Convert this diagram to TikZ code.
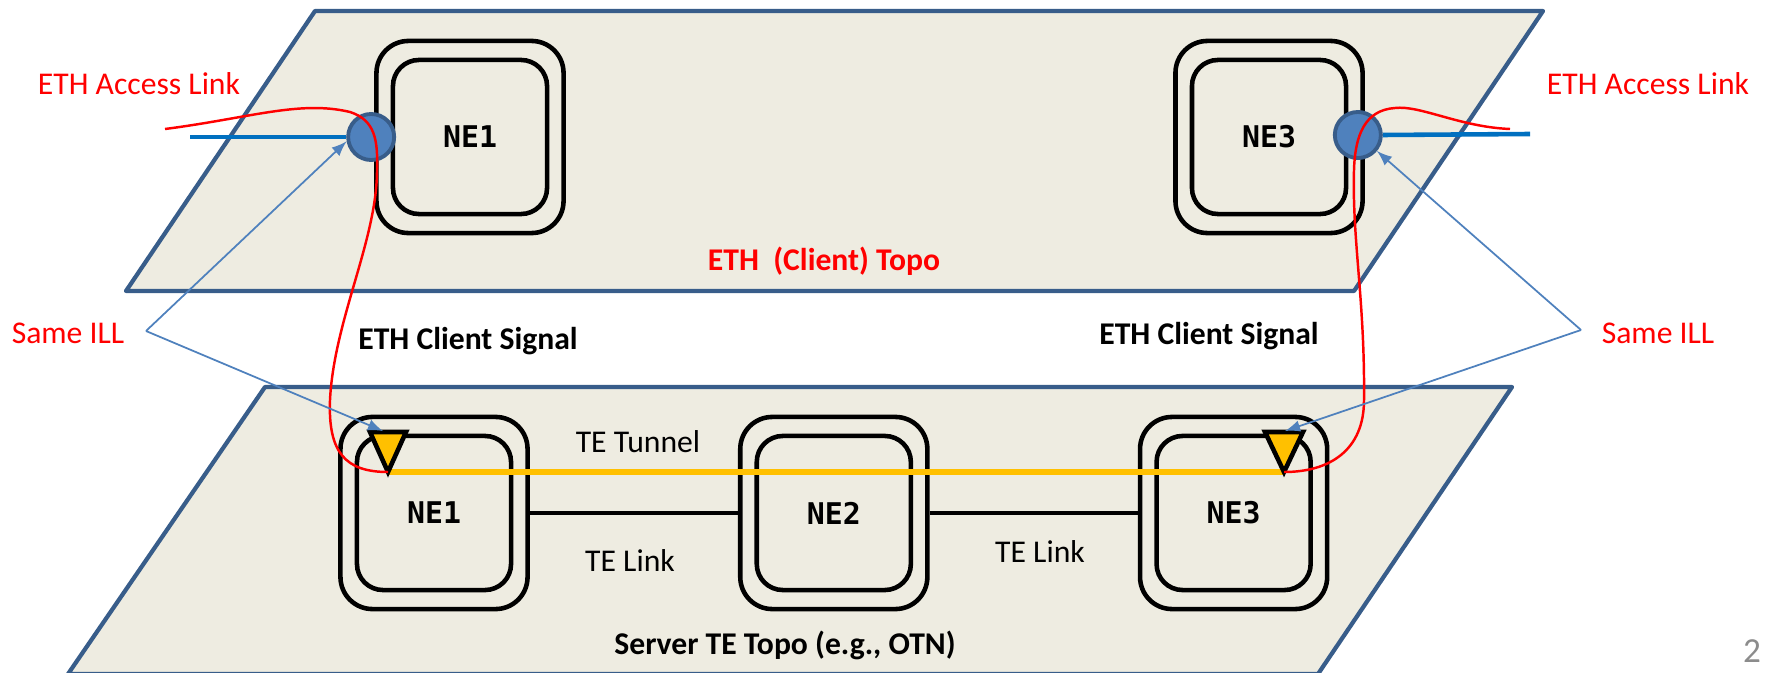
\documentclass[tikz,border=0pt]{standalone}
\usepackage{fontspec}
\setmainfont{Carlito}
\newfontfamily\nefont{DejaVu Sans Mono}
\usetikzlibrary{arrows,positioning}
\definecolor{planefill}{HTML}{EEECE1}
\definecolor{planeedge}{HTML}{385D8A}
\definecolor{portblue}{HTML}{4F81BD}
\definecolor{accblue}{HTML}{0070C0}
\definecolor{tunnelyellow}{HTML}{FFC000}
\definecolor{pagegray}{HTML}{8C8C8C}
\tikzset{
    %Define standard arrow tip
    >=latex,
    %Define style for the two layers
    plane/.style={
           draw=planeedge, line width=1.2pt,
           fill=planefill, line join=round},
    %Define style for network elements
    nebox/.style={
           rectangle,
           rounded corners=0.32cm,
           draw=black, line width=1.3pt,
           minimum width=1.87cm,
           minimum height=1.92cm},
    necore/.style={
           rectangle,
           rounded corners=0.26cm,
           draw=black, line width=1.3pt,
           minimum width=1.54cm,
           minimum height=1.54cm,
           font=\nefont\bfseries\fontsize{8.5}{10}\selectfont},
    port/.style={
           circle,
           draw=planeedge, line width=1.1pt,
           fill=portblue,
           minimum size=0.46cm, inner sep=0pt},
    tri/.style={
           draw=black, line width=1.3pt,
           fill=tunnelyellow, line join=miter},
    % Define label styles
    lbl/.style={font=\fontsize{9}{11}\selectfont},
    redlbl/.style={lbl, text=red},
    boldlbl/.style={lbl, font=\fontsize{9}{11}\selectfont\bfseries},
    % Define line styles
    access/.style={draw=accblue, line width=1.3pt},
    client/.style={draw=red, line width=0.7pt},
    telink/.style={draw=black, line width=1.4pt},
    tunnel/.style={draw=tunnelyellow, line width=1.8pt},
    pointer/.style={->, draw=portblue, line width=0.5pt}
}
\begin{document}
\begin{tikzpicture}[x=0.01cm, y=-0.01cm]
\useasboundingbox (0,0) rectangle (1767,673);

% layers
\draw[plane] (315,11) -- (1543,11) -- (1354,291) -- (126,291) -- cycle;
\draw[plane] (265,387) -- (1512,387) -- (1318,674) -- (68,674) -- cycle;

% client layer
\node[nebox] (ne1t) at (470,137) {};
\node[necore] (ne1t-in) at (ne1t) {NE1};
\node[nebox] (ne3t) at (1269,137) {};
\node[necore] (ne3t-in) at (ne3t) {NE3};

% server layer
\node[nebox] (ne1b) at (434,513) {};
\node[necore] (ne1b-in) at (ne1b) {NE1};
\node[nebox, right=2.08cm of ne1b] (ne2b) {};
\node[necore] (ne2b-in) at (ne2b) {NE2};
\node[nebox, right=2.08cm of ne2b] (ne3b) {};
\node[necore] (ne3b-in) at (ne3b) {NE3};

\path[telink] (ne1b) edge (ne2b)
              (ne2b) edge (ne3b);

% tunnel end points
\coordinate (t1) at (388,472);
\coordinate (t3) at (1284,472);
\coordinate (t1top) at (383,431);
\coordinate (t3top) at (1285,431);
\draw[tunnel] (t1) -- (t3);
\draw[tri] (t1) -- ++(-18,-40) -- ++(36,0) -- cycle;
\draw[tri] (t3) -- ++(-19,-40) -- ++(38,0) -- cycle;

% access links
\coordinate (acc1end) at (190,137);
\coordinate (acc3end) at (1530,134);
\node[port] (p1) at ([xshift=-0.03cm]ne1t.west) {};
\node[port] (p3) at ([xshift=-0.07cm,yshift=0.02cm]ne3t.east) {};
\draw[access] (acc1end) -- (p1.west);
\draw[access] (p3.east) -- (acc3end);

% client signal
\coordinate (r1) at (165,129);
\coordinate (r3) at (1510,129);
\draw[client] (r1) .. controls (250,118) and (300,100) .. (350,112)
      .. controls (375,120) and (378,140) .. (377,170)
      .. controls (377,240) and (334,320) .. (330,400)
      .. controls (328,452) and (345,472) .. (t1);
\draw[client] (r3) .. controls (1460,127) and (1420,105) .. (1395,108)
      .. controls (1365,110) and (1355,135) .. (1354,170)
      .. controls (1352,240) and (1365,300) .. (1364,400)
      .. controls (1364,450) and (1330,472) .. (t3);

% labels
\node[redlbl] (acc1) at (139,84) {ETH Access Link};
\node[redlbl] (acc3) at (1648,84) {ETH Access Link};
\node[redlbl] (ill1) at (68,333) {Same ILL};
\node[redlbl] (ill3) at (1658,333) {Same ILL};
\node[boldlbl, text=red] (ctopo) at (824,261) {ETH\ \ (Client) Topo};
\node[boldlbl] (sig1) at (468,341) {ETH Client Signal};
\node[boldlbl] (sig3) at (1209,336) {ETH Client Signal};
\node[lbl] (tun) at (638,442) {TE Tunnel};
\node[lbl] (link1) at (630,561) {TE Link};
\node[lbl] (link2) at (1040,552) {TE Link};
\node[boldlbl] (stopo) at (785,645) {Server TE Topo (e.g., OTN)};
\node[lbl, text=pagegray, font=\fontsize{10}{12}\selectfont] (page) at (1752,651) {2};

% same ILL pointers
\coordinate (ill1v) at (146,331);
\coordinate (ill3v) at (1581,330);
\draw[pointer] (ill1v) -- (p1.190);
\draw[pointer] (ill1v) -- (t1top);
\draw[pointer] (ill3v) -- (p3.-40);
\draw[pointer] (ill3v) -- (t3top);

\end{tikzpicture}
\end{document}
